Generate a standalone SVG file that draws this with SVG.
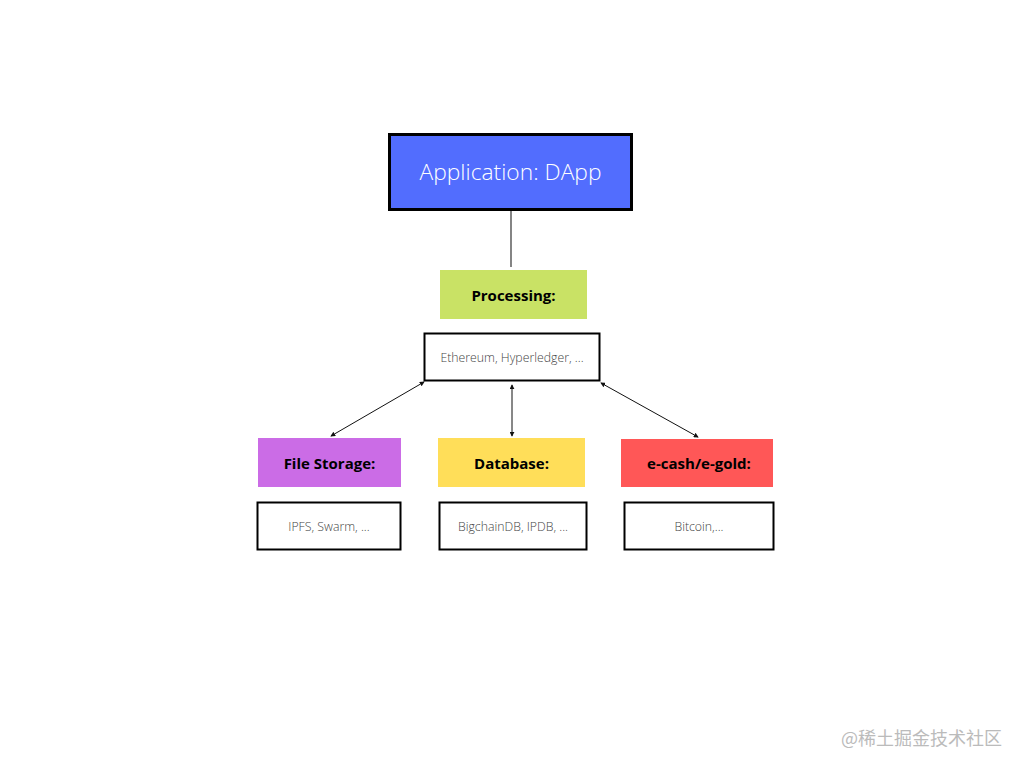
<svg xmlns="http://www.w3.org/2000/svg" width="1024" height="768" viewBox="0 0 1024 768">
<defs>
<style>
.lbl{font-family:"Open Sans","Liberation Sans",sans-serif;font-weight:700;font-size:15px;fill:#000;text-anchor:middle;dominant-baseline:central}
.sub{font-family:"Open Sans","Liberation Sans",sans-serif;font-weight:300;font-size:12.3px;fill:#444;text-anchor:middle;dominant-baseline:central}
.box{fill:#fff;stroke:#000;stroke-width:2}
.conn{stroke:#111;stroke-width:1;fill:none;marker-start:url(#ah);marker-end:url(#ah)}
</style>
<marker id="ah" viewBox="0 0 6 6" refX="5" refY="3" markerWidth="5" markerHeight="5" orient="auto-start-reverse" markerUnits="userSpaceOnUse">
<path d="M0,0 L6,3 L0,6 Z" fill="#111"/>
</marker>
</defs>
<rect width="1024" height="768" fill="#fff"/>
<g id="connectors">
<line x1="511" y1="211" x2="511" y2="267" stroke="#333" stroke-width="1.2"/>
<line class="conn" x1="424" y1="382" x2="331" y2="436"/>
<line class="conn" x1="512" y1="385" x2="512" y2="436"/>
<line class="conn" x1="601" y1="383" x2="698" y2="437"/>
</g>
<g id="app">
<rect x="389.5" y="134.5" width="242" height="75" fill="#526DFE" stroke="#000" stroke-width="3"/>
<text x="510.5" y="171" style="font-family:'Open Sans','Liberation Sans',sans-serif;font-weight:300;font-size:22.8px;fill:#fff;text-anchor:middle;dominant-baseline:central">Application: DApp</text>
</g>
<g id="processing">
<rect x="440" y="270" width="147" height="49" fill="#C9E265"/>
<text class="lbl" x="513.5" y="295">Processing:</text>
</g>
<g id="ethereum">
<rect class="box" x="424.5" y="333.5" width="175" height="47"/>
<text class="sub" x="512" y="357">Ethereum, Hyperledger, ...</text>
</g>
<g id="filestorage">
<rect x="258" y="438" width="143" height="49" fill="#CB6CE6"/>
<text class="lbl" x="329.5" y="463">File Storage:</text>
</g>
<g id="database">
<rect x="438" y="438" width="147" height="49" fill="#FFDE59"/>
<text class="lbl" x="511.5" y="463">Database:</text>
</g>
<g id="ecash">
<rect x="621" y="439" width="152" height="48" fill="#FF5757"/>
<text class="lbl" x="699" y="463">e-cash/e-gold:</text>
</g>
<g id="ipfs">
<rect class="box" x="257.5" y="502.5" width="143" height="47"/>
<text class="sub" x="329" y="526">IPFS, Swarm, ...</text>
</g>
<g id="bigchain">
<rect class="box" x="439.5" y="502.5" width="147" height="47"/>
<text class="sub" x="513" y="526">BigchainDB, IPDB, ...</text>
</g>
<g id="bitcoin">
<rect class="box" x="624.5" y="502.5" width="149" height="47"/>
<text class="sub" x="699" y="526">Bitcoin,...</text>
</g>
<text x="1002" y="737" style="font-family:'Noto Sans CJK SC',sans-serif;font-size:18px;fill:#bbb;text-anchor:end;dominant-baseline:central">@稀土掘金技术社区</text>
</svg>
